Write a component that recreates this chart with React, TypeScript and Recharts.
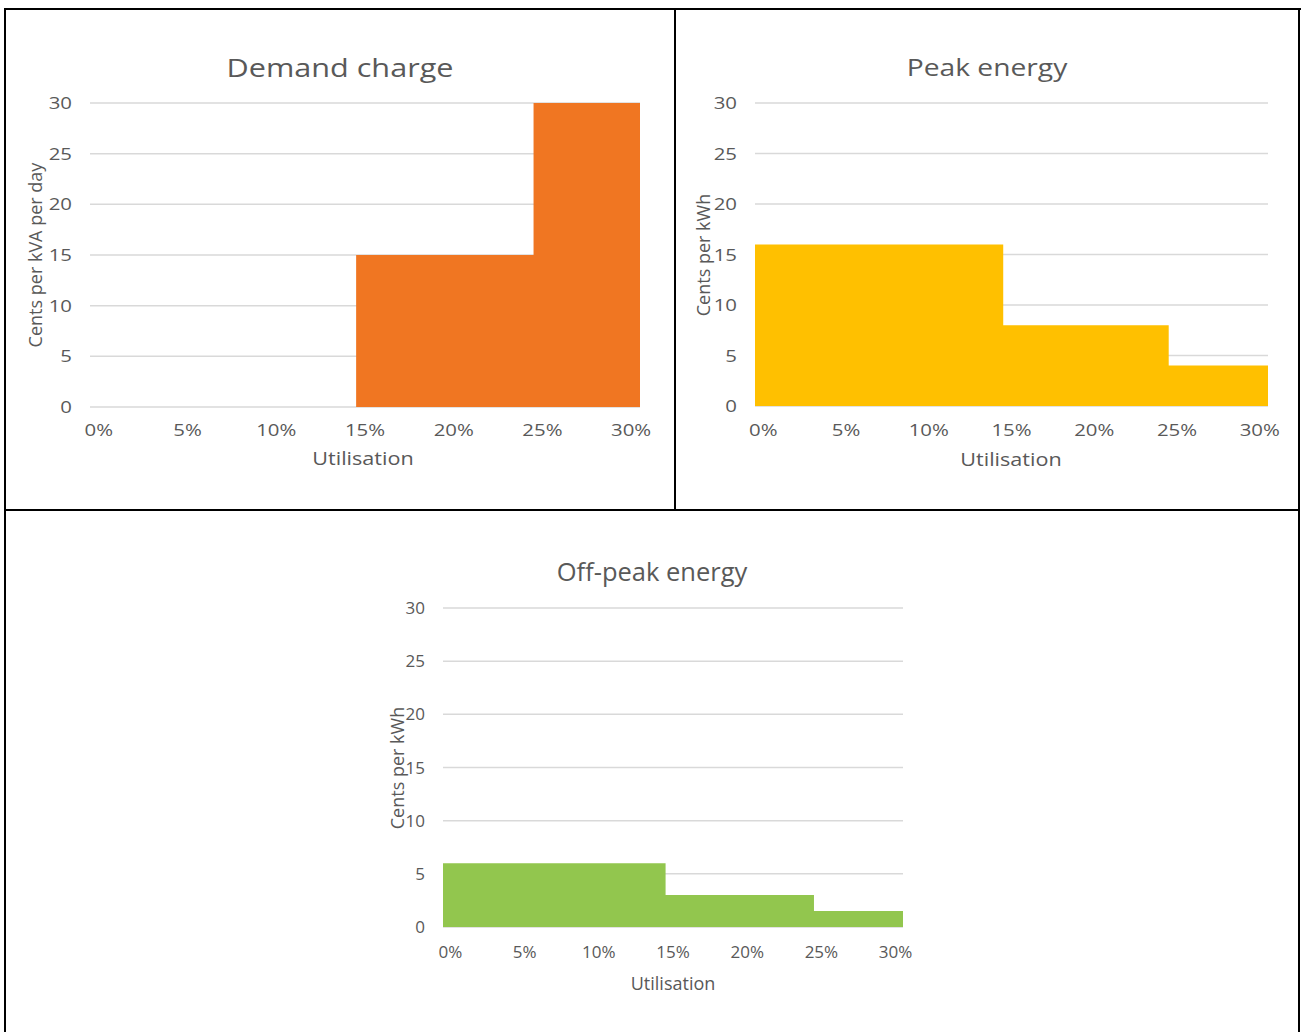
import { AreaChart, Area, XAxis, YAxis, CartesianGrid } from 'recharts'

// utilisation (%) on x, cents on y
const utilisationTicks = [0, 5, 10, 15, 20, 25, 30]
const rateTicks = [0, 5, 10, 15, 20, 25, 30]

// each tariff tier starts at this utilisation
const tierStartPct = [0, 15, 25]
const lastUtilPct = 30

const demandCharge = [0, 15, 30] // cents per kVA per day
const peakEnergy = [16, 8, 4] // cents per kWh
const offPeakEnergy = [6, 3, 1.5] // cents per kWh

const FONT = '"Open Sans", sans-serif'
const TEXT = '#595959'
const GRID = '#d9d9d9'

interface StepPoint {
  u: number
  rate: number
}

// utilisation is a 1% category axis, so a tier edge sits half a category before its first value
function toSteps(rates: number[]): StepPoint[] {
  const pts = tierStartPct.map((s, i) => ({ u: s - 0.5, rate: rates[i] }))
  pts.push({ u: lastUtilPct + 0.5, rate: rates[rates.length - 1] })
  return pts
}

function makeTick(stretch: number, anchor: 'middle' | 'end', suffix: string, dy: string) {
  return (props: any) => {
    const { x, y, payload } = props
    return (
      <text
        transform={`translate(${x},${y}) scale(${stretch},1)`}
        textAnchor={anchor}
        dy={dy}
        fill={TEXT}
        fontSize={17}
        fontFamily={FONT}
      >
        {payload.value}
        {suffix}
      </text>
    )
  }
}

interface PanelProps {
  left: number
  top: number
  width: number
  height: number
  plot: { x0: number; x1: number; y0: number; y1: number }
  title: string
  titlePos: [number, number]
  titleSize: number
  yTitle: string
  yTitlePos: [number, number]
  xTitlePos: [number, number]
  xTickGap: number
  color: string
  rates: number[]
  stretch: number
}

function Panel({
  left, top, width, height, plot, title, titlePos, titleSize, yTitle, yTitlePos, xTitlePos, xTickGap, color, rates, stretch,
}: PanelProps) {
  const yAxisW = 60
  const xAxisH = 40
  const margin = {
    left: plot.x0 - left - yAxisW,
    top: plot.y0 - top,
    right: left + width - plot.x1,
    bottom: top + height - plot.y1 - xAxisH,
  }
  const data = toSteps(rates)
  const label = (x: number, y: number, size: number, rotate = false): React.CSSProperties => ({
    position: 'absolute',
    left: x,
    top: y,
    transform: rotate
      ? 'translate(-50%,-50%) rotate(-90deg)'
      : `translate(-50%,-50%) scaleX(${stretch})`,
    whiteSpace: 'nowrap',
    fontFamily: FONT,
    fontSize: size,
    color: TEXT,
    lineHeight: 1,
  })

  return (
    <>
      <div style={{ position: 'absolute', left, top }}>
        <AreaChart width={width} height={height} data={data} margin={margin}>
          <CartesianGrid vertical={false} stroke={GRID} strokeWidth={1.5} />
          <XAxis
            type="number"
            dataKey="u"
            domain={[-0.5, 30.5]}
            ticks={utilisationTicks}
            interval={0}
            axisLine={false}
            tickLine={false}
            tickSize={0}
            tickMargin={xTickGap}
            height={xAxisH}
            tick={makeTick(stretch, 'middle', '%', '0.71em')}
          />
          <YAxis
            domain={[0, 30]}
            ticks={rateTicks}
            interval={0}
            width={yAxisW}
            axisLine={false}
            tickLine={false}
            tickSize={0}
            tickMargin={18}
            tick={makeTick(stretch, 'end', '', '0.355em')}
          />
          <Area
            type="stepAfter"
            dataKey="rate"
            stroke="none"
            fill={color}
            fillOpacity={1}
            isAnimationActive={false}
          />
        </AreaChart>
      </div>
      <div style={label(titlePos[0], titlePos[1], titleSize)}>{title}</div>
      <div style={label(yTitlePos[0], yTitlePos[1], 18, true)}>{yTitle}</div>
      <div style={label(xTitlePos[0], xTitlePos[1], 18)}>Utilisation</div>
    </>
  )
}

const line = (left: number, top: number, width: number, height: number): React.CSSProperties => ({
  position: 'absolute',
  left,
  top,
  width,
  height,
  background: '#000',
})

export default function App() {
  return (
    <div style={{ position: 'relative', width: 1301, height: 1032, background: '#fff', overflow: 'hidden' }}>
      <style>{'body{margin:0}'}</style>
      <Panel
        left={6}
        top={10}
        width={668}
        height={499}
        plot={{ x0: 90, x1: 640, y0: 103, y1: 407 }}
        title="Demand charge"
        titlePos={[340, 68]}
        titleSize={25.5}
        yTitle="Cents per kVA per day"
        yTitlePos={[35, 255]}
        xTitlePos={[363, 458]}
        xTickGap={17}
        color="#f07622"
        rates={demandCharge}
        stretch={1.2}
      />
      <Panel
        left={676}
        top={10}
        width={622}
        height={499}
        plot={{ x0: 755, x1: 1268, y0: 103, y1: 406 }}
        title="Peak energy"
        titlePos={[987, 68]}
        titleSize={23.5}
        yTitle="Cents per kWh"
        yTitlePos={[703, 255]}
        xTitlePos={[1011, 459]}
        xTickGap={18}
        color="#ffc000"
        rates={peakEnergy}
        stretch={1.2}
      />
      <Panel
        left={6}
        top={511}
        width={1292}
        height={521}
        plot={{ x0: 443, x1: 903, y0: 608, y1: 927 }}
        title="Off-peak energy"
        titlePos={[652, 572]}
        titleSize={25.5}
        yTitle="Cents per kWh"
        yTitlePos={[397, 768]}
        xTitlePos={[673, 983]}
        xTickGap={19}
        color="#92c64e"
        rates={offPeakEnergy}
        stretch={1}
      />
      <div style={line(4, 8, 1297, 2)} />
      <div style={line(4, 8, 2, 1024)} />
      <div style={line(1298, 8, 2, 1024)} />
      <div style={line(674, 8, 2, 502)} />
      <div style={line(4, 509, 1296, 2)} />
    </div>
  )
}
